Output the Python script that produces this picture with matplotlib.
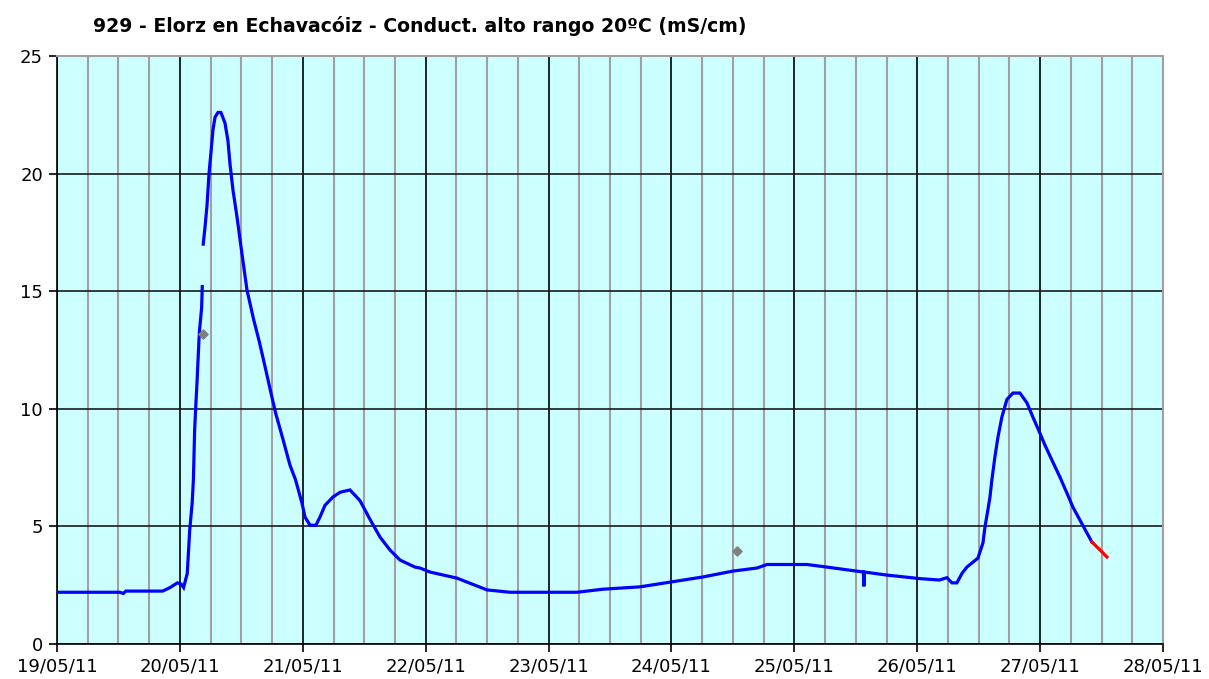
import numpy as np
import matplotlib
matplotlib.use("Agg")
import matplotlib.pyplot as plt
from matplotlib.ticker import MultipleLocator

title = "929 - Elorz en Echavacóiz - Conduct. alto rango 20ºC (mS/cm)"
date_labels = ["19/05/11", "20/05/11", "21/05/11", "22/05/11", "23/05/11",
               "24/05/11", "25/05/11", "26/05/11", "27/05/11", "28/05/11"]
y_ticks = [0, 5, 10, 15, 20, 25]

# time in days since 19/05/11 00:00, conductivity mS/cm
t_blue = [0.00, 0.51, 0.54, 0.56, 0.86, 0.92, 0.98, 1.01, 1.03, 1.06, 1.08, 1.10,
          1.11, 1.12, 1.13, 1.14, 1.155, 1.16, 1.177, 1.182, 1.186,
          1.190, 1.204, 1.220, 1.237, 1.253, 1.269, 1.286, 1.310, 1.334, 1.367,
          1.391, 1.408, 1.432, 1.465, 1.497, 1.546, 1.600, 1.644, 1.684, 1.740,
          1.780, 1.839, 1.896, 1.940, 1.993, 2.018, 2.059, 2.107, 2.140, 2.181,
          2.246, 2.303, 2.384, 2.465, 2.547, 2.628, 2.709, 2.791, 2.913, 2.954,
          3.035, 3.255, 3.499, 3.686, 4.231, 4.443, 4.744, 4.988, 5.256, 5.500,
          5.696, 5.777, 6.103, 6.265, 6.562, 6.566, 6.570, 6.753, 7.022, 7.180,
          7.242, 7.282, 7.323, 7.364, 7.404, 7.494, 7.535, 7.551, 7.575, 7.592,
          7.608, 7.632, 7.657, 7.689, 7.730, 7.779, 7.836, 7.893, 7.941, 7.998,
          8.039, 8.096, 8.161, 8.218, 8.267, 8.324, 8.381, 8.421]
v_blue = [2.2, 2.2, 2.15, 2.25, 2.25, 2.4, 2.6, 2.55, 2.4, 3.0, 4.85, 6.0,
          7.0, 9.1, 10.2, 11.2, 12.9, 13.35, 14.3, 15.2, np.nan,
          17.0, 17.7, 18.6, 20.0, 20.9, 21.85, 22.4, 22.6, 22.6, 22.15,
          21.4, 20.4, 19.3, 18.15, 16.9, 15.05, 13.8, 12.9, 12.0, 10.7,
          9.8, 8.7, 7.6, 7.0, 6.0, 5.4, 5.05, 5.05, 5.4, 5.9,
          6.25, 6.45, 6.55, 6.1, 5.3, 4.55, 4.0, 3.57, 3.27, 3.23,
          3.06, 2.8, 2.3, 2.2, 2.2, 2.33, 2.43, 2.63, 2.85, 3.1,
          3.23, 3.38, 3.38, 3.27, 3.06, 2.45, 3.06, 2.93, 2.78, 2.72,
          2.82, 2.6, 2.6, 3.0, 3.27, 3.65, 4.3, 4.97, 5.7, 6.25,
          7.0, 7.95, 8.8, 9.65, 10.4, 10.67, 10.67, 10.25, 9.65, 8.97,
          8.46, 7.82, 7.1, 6.42, 5.82, 5.27, 4.72, 4.34]
t_red = [8.421, 8.487, 8.544]
v_red = [4.34, 4.0, 3.7]
t_points = [1.19, 5.53]
v_points = [13.2, 3.95]

fig = plt.figure(figsize=(12.09, 6.79), dpi=100)
ax = fig.add_axes([57/1209, 1-644/679, 1106/1209, 588/679])
ax.set_facecolor("#CCFFFF")

ax.set_xlim(0, 9)
ax.set_ylim(0, 25)
ax.xaxis.set_minor_locator(MultipleLocator(0.25))
ax.set_yticks(y_ticks)
ax.set_xticks(range(len(date_labels)))
ax.set_xticklabels(date_labels)

ax.grid(True, which="minor", axis="x", color="#A0A0A0", lw=1.5, zorder=0)
ax.grid(True, which="major", axis="x", color="#000000", lw=1.2, zorder=0)
ax.grid(True, which="major", axis="y", color="#1a1a1a", lw=1.2, zorder=0)
ax.set_axisbelow(True)

ax.plot(t_blue, v_blue, color="#0000FF", lw=2.3, zorder=3, solid_joinstyle="miter")
ax.plot(t_red, v_red, color="#FF0000", lw=2.3, zorder=3)
ax.scatter(t_points, v_points, marker="D", s=22, color="#808080", zorder=4)

for s in ["left", "bottom"]:
    ax.spines[s].set_color("black")
    ax.spines[s].set_linewidth(1.2)
for s in ["top", "right"]:
    ax.spines[s].set_color("#A0A0A0")
    ax.spines[s].set_linewidth(1.5)

ax.tick_params(axis="both", which="major", direction="out", length=6, width=1.2,
               labelsize=13, colors="black", pad=4)
ax.tick_params(axis="x", which="minor", length=0)

fig.text(93/1209, 1-26/679, title, fontsize=13.6, fontweight="bold",
         va="center", ha="left", family="DejaVu Sans")

fig.savefig("out.png", dpi=100)
